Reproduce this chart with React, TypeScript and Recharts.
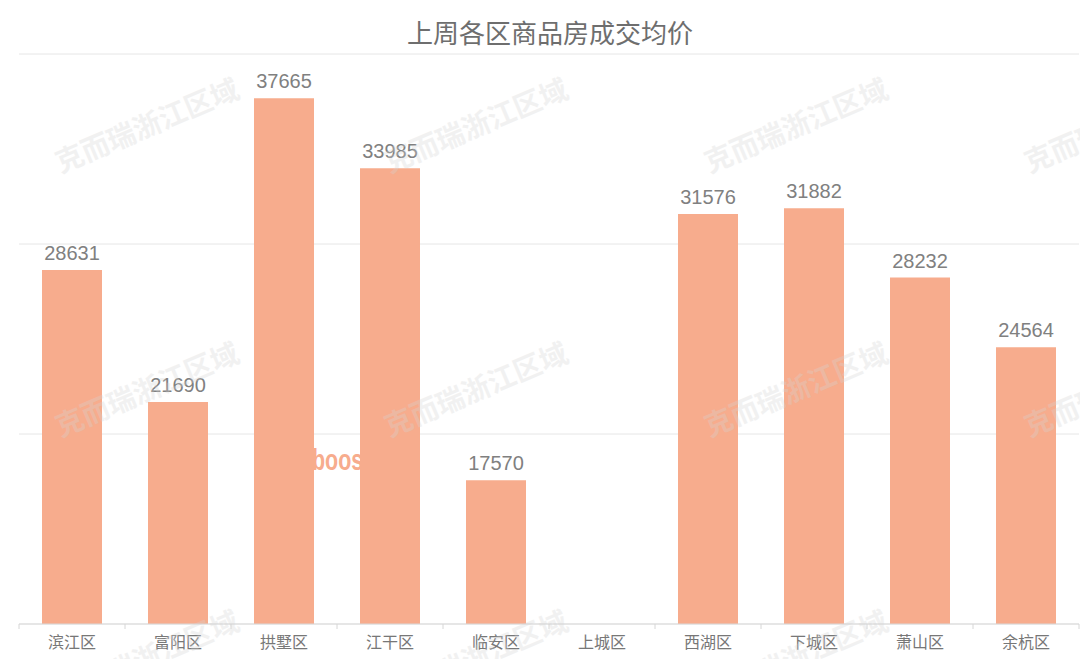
import React from 'react';
import { BarChart, Bar, XAxis, YAxis, CartesianGrid, LabelList, Customized } from 'recharts';

const categories = ['滨江区', '富阳区', '拱墅区', '江干区', '临安区', '上城区', '西湖区', '下城区', '萧山区', '余杭区'];
const prices: (number | null)[] = [28631, 21690, 37665, 33985, 17570, null, 31576, 31882, 28232, 24564];
const yTicks = [10000, 20000, 30000, 40000];
const title = '上周各区商品房成交均价';
const watermarkText = '克而瑞浙江区域';

const data = categories.map((name, i) => ({ name, value: prices[i] }));

const W = 1080;
const H = 659;
const CJK = '"Noto Sans CJK SC", "Noto Sans", sans-serif';
const NUM = '"Liberation Sans", Arial, sans-serif';

const wmX = [148, 477, 797, 1117];
const wmY = [128, 392, 660];

const CategoryTick = (props: any) => {
  const { x, y, payload, index, visibleTicksCount, width } = props;
  const half =
    payload && payload.offset ? payload.offset : width && visibleTicksCount ? width / visibleTicksCount / 2 : 53;
  const last = index === visibleTicksCount - 1;
  return (
    <g>
      <line x1={x - half} x2={x - half} y1={y} y2={y + 5} stroke="#d6d6d6" />
      {last && <line x1={x + half} x2={x + half} y1={y} y2={y + 5} stroke="#d6d6d6" />}
      <text x={x} y={y + 24} textAnchor="middle" fill="#777" fontSize={16} fontFamily={CJK}>
        {payload.value}
      </text>
    </g>
  );
};

const Artifact = () => (
  <text
    transform="translate(312,470) scale(0.74,1)"
    x={0}
    y={0}
    fill="#F7AC8D"
    fontSize={29}
    fontWeight="bold"
    fontFamily={NUM}
  >
    boosjie
  </text>
);

export default function App() {
  return (
    <div style={{ position: 'absolute', left: 0, top: 0, width: W, height: H, background: '#fff' }}>
      <BarChart
        width={W}
        height={H}
        data={data}
        margin={{ top: 54, right: 1, left: 19, bottom: 0 }}
        barCategoryGap="21.7%"
      >
        <CartesianGrid vertical={false} stroke="#e6e6e6" />
        <YAxis hide type="number" domain={[10000, 40000]} ticks={yTicks} />
        <XAxis
          dataKey="name"
          height={35}
          axisLine={{ stroke: '#d9d9d9' }}
          tickLine={false}
          tickSize={0}
          tickMargin={0}
          interval={0}
          tick={<CategoryTick />}
        />
        <Customized component={Artifact} />
        <Bar dataKey="value" fill="#F7AC8D" isAnimationActive={false}>
          <LabelList
            dataKey="value"
            position="top"
            offset={10}
            fill="#808080"
            fontSize={20}
            fontFamily={NUM}
            formatter={(v: any) => (v == null ? '' : v)}
          />
        </Bar>
      </BarChart>
      <svg
        width={W}
        height={H}
        style={{ position: 'absolute', left: 0, top: 0, pointerEvents: 'none' }}
      >
        <text x={550} y={43} textAnchor="middle" fill="#6e6e6e" fontSize={26} fontFamily={CJK}>
          {title}
        </text>
        {wmY.map((cy) =>
          wmX.map((cx) => (
            <text
              key={`${cx}-${cy}`}
              x={cx}
              y={cy}
              textAnchor="middle"
              dominantBaseline="middle"
              transform={`rotate(-23 ${cx} ${cy})`}
              fill="#d4d4d4"
              opacity={0.3}
              fontSize={28}
              fontWeight="bold"
              fontFamily={CJK}
            >
              {watermarkText}
            </text>
          ))
        )}
      </svg>
    </div>
  );
}
